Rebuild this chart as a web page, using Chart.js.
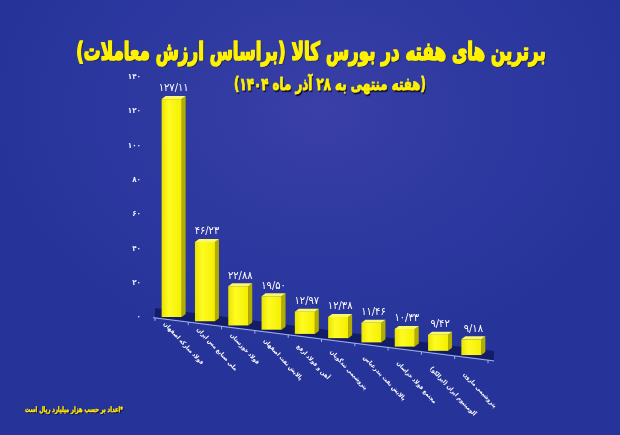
<!DOCTYPE html>
<html lang="fa">
<head>
<meta charset="utf-8">
<title>برترین های هفته در بورس کالا</title>
<script src="https://cdn.jsdelivr.net/npm/chart.js@4.4.1/dist/chart.umd.min.js"></script>
<style>
  html, body { margin: 0; padding: 0; }
  body {
    width: 620px; height: 435px; overflow: hidden;
    background: radial-gradient(ellipse 330px 250px at 320px 110px, #3a3fa6 0%, #2f3aa1 45%, #26349a 100%);
  }
  canvas { display: block; }
</style>
</head>
<body>
<canvas id="myChart" width="620" height="435"></canvas>
<script>
const title = 'برترین های هفته در بورس کالا (براساس ارزش معاملات)';
const subtitle = '(هفته منتهی به ۲۸ آذر ماه ۱۴۰۴)';
const note = '*اعداد بر حسب هزار میلیارد ریال است';

const companies = [
    'فولاد مبارکه اصفهان',
    'ملی صنایع مس ایران',
    'فولاد خوزستان',
    'پالایش نفت اصفهان',
    'آهن و فولاد ارفع',
    'پتروشیمی تندگویان',
    'پالایش نفت بندرعباس',
    'مجتمع فولاد خراسان',
    'آلومینیوم ایران (ایرالکو)',
    'پتروشیمی مارون',
];
const tradeValues = [127.11, 46.23, 22.88, 19.50, 12.97, 12.38, 11.46, 10.33, 9.42, 9.18];
const yMin = 0;
const yMax = 140;
const yStep = 20;

const FONT = '"DejaVu Sans Condensed", "DejaVu Sans", sans-serif';
const TILT = 0.127;        // floor slopes down to the right (fake perspective)
const LABEL_TILT = 0.168;
const DEPTH = 4;
const LIFT = 3;

function toFa(str) {
    return String(str).replace(/[0-9]/g, d => '۰۱۲۳۴۵۶۷۸۹'[d]).replace('.', '/');
}

// draw text stretched to a given width, taller than normal and a bit heavier
function fitText(ctx, text, cx, cy, width, sy, weight) {
    ctx.font = 'bold 100px ' + FONT;
    const size = 100 * width / ctx.measureText(text).width;
    ctx.save();
    ctx.translate(cx, cy);
    ctx.scale(1, sy);
    ctx.font = 'bold ' + size.toFixed(2) + 'px ' + FONT;
    ctx.fillText(text, 0, 0);
    if (weight) {
        ctx.shadowColor = 'transparent';
        ctx.strokeStyle = ctx.fillStyle;
        ctx.lineWidth = weight;
        ctx.lineJoin = 'round';
        ctx.strokeText(text, 0, 0);
    }
    ctx.restore();
}

const headings = {
    id: 'headings',
    beforeDraw(chart) {
        const ctx = chart.ctx;
        ctx.save();
        ctx.direction = 'rtl';
        ctx.textAlign = 'center';
        ctx.textBaseline = 'middle';
        ctx.shadowColor = 'rgba(0,0,20,0.85)';
        ctx.shadowOffsetX = 1;
        ctx.shadowOffsetY = 1.5;
        ctx.shadowBlur = 1;
        ctx.fillStyle = '#fff200';
        fitText(ctx, title, 311, 53, 470, 1.35, 1.2);
        fitText(ctx, subtitle, 330, 86, 192, 1.3, 0.6);
        ctx.fillStyle = '#ffe600';
        fitText(ctx, note, 74, 410, 98, 1.3, 0.3);
        ctx.restore();
    }
};

const bars3d = {
    id: 'bars3d',
    beforeDatasetsDraw(chart) {
        const ctx = chart.ctx;
        const area = chart.chartArea;
        const els = chart.getDatasetMeta(0).data;
        const x0 = els[0].x;
        const base = chart.scales.y.getPixelForValue(0);
        const floorY = x => base + (x - x0) * TILT;
        const L = area.left, R = area.right;

        ctx.save();
        // dark floor strip
        ctx.fillStyle = 'rgba(14,20,84,0.75)';
        ctx.beginPath();
        ctx.moveTo(L, floorY(L) - 7);
        ctx.lineTo(R + 6, floorY(R + 6) - 7);
        ctx.lineTo(R + 6, floorY(R + 6) + 2);
        ctx.lineTo(L, floorY(L) + 2);
        ctx.closePath();
        ctx.fill();

        // axis line with ticks
        ctx.strokeStyle = 'rgba(175,190,240,0.9)';
        ctx.lineWidth = 1;
        ctx.beginPath();
        ctx.moveTo(L - 2, floorY(L - 2) + 3);
        ctx.lineTo(R + 6, floorY(R + 6) + 3);
        const cw = (R - L) / companies.length;
        for (let i = 0; i <= companies.length; i++) {
            const tx = L + i * cw;
            ctx.moveTo(tx, floorY(tx) + 3);
            ctx.lineTo(tx, floorY(tx) + 6);
        }
        ctx.stroke();
        ctx.restore();
    },
    afterDatasetsDraw(chart) {
        const ctx = chart.ctx;
        const els = chart.getDatasetMeta(0).data;
        const x0 = els[0].x;
        ctx.save();
        els.forEach((el, i) => {
            const {x, y, base, width} = el.getProps(['x', 'y', 'base', 'width'], true);
            const s = (x - x0) * TILT;
            const l = x - width / 2, r = x + width / 2;
            const top = y + s, bot = base + s;

            // right side
            ctx.fillStyle = '#b3ad00';
            ctx.beginPath();
            ctx.moveTo(r, top);
            ctx.lineTo(r + DEPTH, top - LIFT);
            ctx.lineTo(r + DEPTH, bot - LIFT);
            ctx.lineTo(r, bot);
            ctx.closePath();
            ctx.fill();

            // front
            const g = ctx.createLinearGradient(l, 0, r, 0);
            g.addColorStop(0, '#eae400');
            g.addColorStop(0.35, '#fffb22');
            g.addColorStop(1, '#f4ef00');
            ctx.fillStyle = g;
            ctx.fillRect(l, top, width, bot - top);

            // top
            ctx.fillStyle = '#fbf86a';
            ctx.beginPath();
            ctx.moveTo(l, top);
            ctx.lineTo(r, top);
            ctx.lineTo(r + DEPTH, top - LIFT);
            ctx.lineTo(l + DEPTH, top - LIFT);
            ctx.closePath();
            ctx.fill();

            // value label
            ctx.fillStyle = '#ffffff';
            ctx.font = '11px ' + FONT;
            ctx.textAlign = 'center';
            ctx.textBaseline = 'bottom';
            ctx.fillText(toFa(tradeValues[i].toFixed(2)), x + DEPTH / 2, top - LIFT - 2);

            // category label, hanging down to the right
            ctx.save();
            ctx.translate(x - 5, base + (x - x0) * LABEL_TILT + 4);
            ctx.rotate(47 * Math.PI / 180);
            ctx.direction = 'rtl';
            ctx.textAlign = 'left';
            ctx.textBaseline = 'top';
            ctx.font = 'bold 6px ' + FONT;
            ctx.fillStyle = '#ffffff';
            ctx.fillText(companies[i], 0, 0);
            ctx.restore();
        });
        ctx.restore();
    }
};

new Chart(document.getElementById('myChart'), {
    type: 'bar',
    data: {
        labels: companies,
        datasets: [{
            data: tradeValues,
            backgroundColor: 'rgba(0,0,0,0)',
            borderWidth: 0,
            barPercentage: 0.6,
            categoryPercentage: 1,
        }]
    },
    options: {
        responsive: false,
        animation: false,
        devicePixelRatio: 1,
        layout: { padding: { left: 110, right: 132, top: 77, bottom: 118 } },
        plugins: {
            legend: { display: false },
            tooltip: { enabled: false },
        },
        scales: {
            x: { display: false },
            y: {
                min: yMin,
                max: yMax,
                afterFit: scale => { scale.width = 45; },
                grid: { display: false, drawTicks: false },
                border: { display: false },
                ticks: {
                    stepSize: yStep,
                    padding: 14,
                    color: '#e8ecff',
                    font: { family: FONT, size: 8, weight: 'bold' },
                    callback: v => toFa(v),
                }
            }
        }
    },
    plugins: [headings, bars3d]
});
</script>
</body>
</html>
